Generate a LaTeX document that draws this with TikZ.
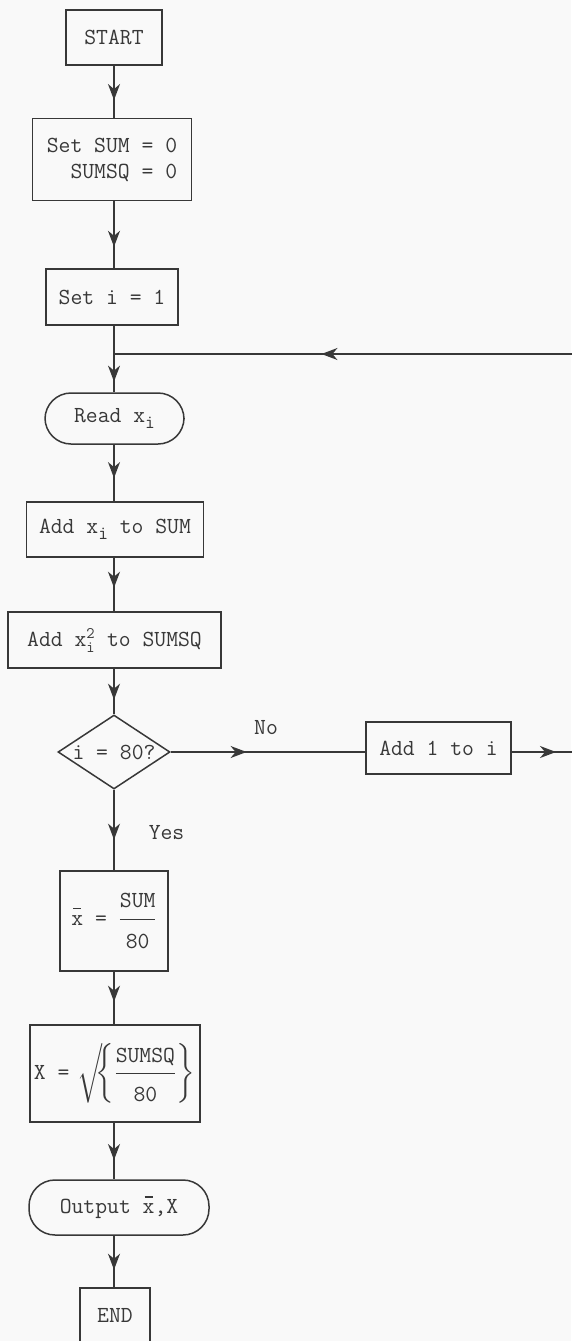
\RequirePackage{fix-cm}
\documentclass[tikz,border=0pt]{standalone}
\usepackage{amsmath}
\usetikzlibrary{positioning,calc,arrows.meta,decorations.markings,shapes.geometric}
\definecolor{ink}{gray}{0.22}
\definecolor{paper}{gray}{0.975}
\newcommand{\xsub}{x\raisebox{-6pt}{\fontsize{19}{20}\selectfont i}}
\newcommand{\xbar}{\makebox[0pt][l]{\hspace{2pt}\raisebox{16pt}{\rule{8pt}{1.3pt}}}x}
\tikzset{box/.style={draw=ink,line width=1.5pt,inner sep=0pt}  }
\tikzset{term/.style={box,rounded corners=26pt}  }
\tikzset{decide/.style={box,diamond,shape aspect=1.5}  }
\tikzset{flow/.style={draw=ink,line width=1.5pt,postaction={decorate,decoration={markings,mark=at position #1 with {\arrow{Stealth[length=16pt,width=12pt,inset=5pt]}}}}}  }

\begin{document}
\begin{tikzpicture}[x=1pt,y=-1pt,color=ink,font=\fontsize{23}{26}\selectfont\ttfamily]
	\fill[paper] (0,0) rectangle (571,1341);
	\useasboundingbox (0,0) rectangle (571,1341);

		\node[box,minimum width=96pt,minimum height=55pt] (start) at (114,37.5) {START};
		\node[box,minimum width=159pt,minimum height=82pt,align=right] (init) at (112,159.5) {Set SUM = 0\\SUMSQ = 0};
		\node[box,minimum width=132pt,minimum height=56pt] (seti) at (112,297) {Set i = 1};
		\coordinate (join) at (114,354);
		\node[term,minimum width=139pt,minimum height=51pt] (read) at (114.5,418.5) {Read \xsub};
		\node[box,minimum width=177pt,minimum height=55pt] (addx) at (115,529.5) {Add \xsub{} to SUM};
		\node[box,minimum width=213pt,minimum height=56pt] (addsq) at (114.5,640) {Add $\text{x}^{\text{2}}_{\text{i}}$ to SUMSQ};
		\node[decide,minimum width=112pt,minimum height=74pt] (check) at (114,752) {i = 80?};
		\node[box,minimum width=145pt,minimum height=52pt] (inc) at (438.5,748) {Add 1 to i};
		\node[box,minimum width=108pt,minimum height=100pt] (mean) at (114,921) {\xbar{} = $\genfrac{}{}{1.5pt}{0}{\text{SUM}\rule[-7pt]{0pt}{7pt}}{\rule{0pt}{24pt}\text{80}}$};
		\node[box,minimum width=170pt,minimum height=97pt] (sd) at (115,1073.5) {X =\hspace{8pt}$\left\delimiter"0270370 \mkern-5mu\left\{\genfrac{}{}{1.5pt}{0}{\text{SUMSQ}\rule[-6pt]{0pt}{6pt}}{\rule{0pt}{23pt}\text{80}}\right\}\right.$};
		\node[term,minimum width=180pt,minimum height=55pt] (out) at (119,1207.5) {Output \xbar,X};
		\node[box,minimum width=70pt,minimum height=55pt] (end) at (115,1315.5) {END};

		\coordinate (redge) at (575,752);
		\coordinate (rtop) at (575,354);

		\draw[flow=.66] (start) -- (start |- init.north);
		\draw[flow=.68] (init.south -| join) -- (seti.north -| join);
		\draw[flow=.84] (seti.south -| join) -- (read.north -| join);
		\draw[flow=.59] (read.south -| join) -- (addx.north -| join);
		\draw[flow=.56] (addx.south -| join) -- (addsq.north -| join);
		\draw[flow=.68] (addsq.south -| join) -- (check);
		\draw[flow=.62] (check) -- node[pos=.62,anchor=base west,xshift=34pt,inner sep=0pt] {Yes} (mean);
		\draw[flow=.57] (mean) -- (mean |- sd.north);
		\draw[flow=.66] (sd.south -| join) -- (out.north -| join);
		\draw[flow=.66] (out.south -| join) -- (end.north -| join);

		% loop back
		\draw[flow=.39] (check.east) -- node[pos=.49,anchor=base,yshift=17.5pt,inner sep=0pt] {No} (check.east -| inc.west);
		\draw[flow=.70] (check.east -| inc.east) -- (redge);
		\draw[line width=1.5pt] (redge) -- (rtop);
		\draw[flow=.55] (rtop) -- (join);
\end{tikzpicture}
\end{document}
